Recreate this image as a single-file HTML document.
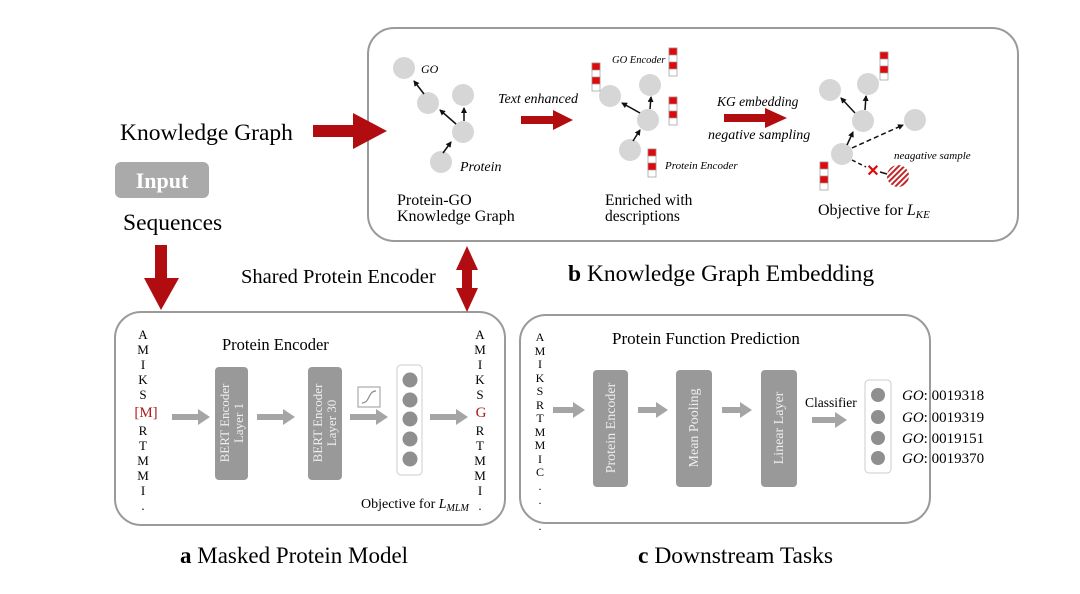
<!DOCTYPE html>
<html><head><meta charset="utf-8"><style>
html,body{margin:0;padding:0;background:#fff;}
svg{display:block;font-family:"Liberation Serif",serif;}
.it{font-style:italic;}
</style></head><body>
<svg width="1080" height="594" viewBox="0 0 1080 594" xmlns="http://www.w3.org/2000/svg">
<defs>
<marker id="ah" markerWidth="6" markerHeight="6" refX="5" refY="3" orient="auto" markerUnits="userSpaceOnUse"><path d="M0,0 L6,3 L0,6 z" fill="#111"/></marker>
<pattern id="hatch" width="4" height="4" patternUnits="userSpaceOnUse" patternTransform="rotate(45)"><rect width="4" height="4" fill="#fff"/><rect width="2" height="4" fill="#c0282a"/></pattern>
</defs>

<!-- boxes -->
<rect x="368" y="28" width="650" height="213" rx="26" fill="#fff" stroke="#9a9a9a" stroke-width="2"/>
<rect x="115" y="312" width="390" height="213" rx="26" fill="#fff" stroke="#9a9a9a" stroke-width="2"/>
<rect x="520" y="315" width="410" height="208" rx="26" fill="#fff" stroke="#9a9a9a" stroke-width="2"/>

<!-- left labels -->
<text x="120" y="140" font-size="23.5">Knowledge Graph</text>
<rect x="115" y="162" width="94" height="36" rx="6" fill="#aaaaaa"/>
<text x="162" y="188" font-size="22" font-weight="bold" fill="#fff" text-anchor="middle">Input</text>
<text x="123" y="230" font-size="23.5">Sequences</text>
<text x="241" y="283" font-size="20.5">Shared Protein Encoder</text>
<text x="568" y="281" font-size="23.5"><tspan font-weight="bold">b</tspan> Knowledge Graph Embedding</text>
<text x="180" y="563" font-size="23"><tspan font-weight="bold">a</tspan> Masked Protein Model</text>
<text x="638" y="563" font-size="23.5"><tspan font-weight="bold">c</tspan> Downstream Tasks</text>

<!-- big red arrows -->
<path d="M313,125 H353 V113 L387,131 L353,149 V137 H313 z" fill="#b10d10"/>
<path d="M155,245 H167 V278 H179 L161,310 L144,278 H155 z" fill="#b10d10"/>
<path d="M467,246 L478,270 H472 V288 H478 L467,312 L456,288 H462 V270 H456 z" fill="#b10d10"/>

<!-- Graph 1 -->
<g fill="#d6d6d6">
<circle cx="404" cy="68" r="11"/><circle cx="428" cy="103" r="11"/><circle cx="463" cy="95" r="11"/><circle cx="463" cy="132" r="11"/><circle cx="441" cy="162" r="11"/>
</g>
<g stroke="#111" stroke-width="1.5" marker-end="url(#ah)">
<line x1="424" y1="94" x2="414" y2="81"/>
<line x1="456" y1="124" x2="440" y2="110"/>
<line x1="464" y1="121" x2="464" y2="108"/>
<line x1="443" y1="153" x2="451" y2="142"/>
</g>
<text x="421" y="73" font-size="12" class="it">GO</text>
<text x="460" y="171" font-size="14" class="it">Protein</text>
<text x="397" y="205" font-size="16">Protein-GO</text>
<text x="397" y="221" font-size="16">Knowledge Graph</text>
<text x="498" y="103" font-size="14" class="it">Text enhanced</text>
<path d="M521,116 H553 V110 L573,120 L553,130 V124 H521 z" fill="#b10d10"/>

<!-- Graph 2 -->
<g fill="#d6d6d6">
<circle cx="610" cy="96" r="11"/><circle cx="650" cy="85" r="11"/><circle cx="648" cy="120" r="11"/><circle cx="630" cy="150" r="11"/>
</g>
<g stroke="#111" stroke-width="1.5" marker-end="url(#ah)">
<line x1="640" y1="113" x2="622" y2="103"/>
<line x1="650" y1="109" x2="651" y2="97"/>
<line x1="633" y1="141" x2="640" y2="130"/>
</g>
<g stroke="#999" stroke-width="0.7">
<rect x="592" y="63" width="8" height="28" fill="#fff"/><rect x="592" y="63" width="8" height="7" fill="#e0080a"/><rect x="592" y="77" width="8" height="7" fill="#e0080a"/>
<rect x="669" y="48" width="8" height="28" fill="#fff"/><rect x="669" y="48" width="8" height="7" fill="#e0080a"/><rect x="669" y="62" width="8" height="7" fill="#e0080a"/>
<rect x="669" y="97" width="8" height="28" fill="#fff"/><rect x="669" y="97" width="8" height="7" fill="#e0080a"/><rect x="669" y="111" width="8" height="7" fill="#e0080a"/>
<rect x="648" y="149" width="8" height="28" fill="#fff"/><rect x="648" y="149" width="8" height="7" fill="#e0080a"/><rect x="648" y="163" width="8" height="7" fill="#e0080a"/>
</g>
<text x="612" y="63" font-size="10.5" class="it">GO Encoder</text>
<text x="665" y="169" font-size="11" class="it">Protein Encoder</text>
<text x="605" y="205" font-size="15.5">Enriched with</text>
<text x="605" y="221" font-size="15.5">descriptions</text>
<text x="717" y="106" font-size="13.5" class="it">KG embedding</text>
<path d="M724,114 H765 V108 L787,118 L765,128 V122 H724 z" fill="#b10d10"/>
<text x="708" y="139" font-size="14" class="it">negative sampling</text>

<!-- Graph 3 -->
<g fill="#d6d6d6">
<circle cx="830" cy="90" r="11"/><circle cx="868" cy="84" r="11"/><circle cx="863" cy="121" r="11"/><circle cx="842" cy="154" r="11"/><circle cx="915" cy="120" r="11"/>
</g>
<circle cx="898" cy="176" r="11" fill="url(#hatch)"/>
<g stroke="#111" stroke-width="1.5" marker-end="url(#ah)">
<line x1="855" y1="113" x2="841" y2="98"/>
<line x1="865" y1="110" x2="866" y2="96"/>
<line x1="847" y1="145" x2="853" y2="132"/>
<line x1="852" y1="148" x2="903" y2="125" stroke-dasharray="5,3"/>
</g>
<line x1="852" y1="160" x2="866" y2="167" stroke="#111" stroke-width="1.5" stroke-dasharray="4,3"/>
<line x1="880" y1="172" x2="887" y2="174" stroke="#111" stroke-width="1.5"/>
<text x="873" y="176" font-size="16" font-weight="bold" fill="#e0080a" text-anchor="middle" font-family="Liberation Sans">✕</text>
<g stroke="#999" stroke-width="0.7">
<rect x="880" y="52" width="8" height="28" fill="#fff"/><rect x="880" y="52" width="8" height="7" fill="#e0080a"/><rect x="880" y="66" width="8" height="7" fill="#e0080a"/>
<rect x="820" y="162" width="8" height="28" fill="#fff"/><rect x="820" y="162" width="8" height="7" fill="#e0080a"/><rect x="820" y="176" width="8" height="7" fill="#e0080a"/>
</g>
<text x="894" y="159" font-size="11" class="it">neagative sample</text>
<text x="818" y="215" font-size="16">Objective for <tspan class="it">L</tspan><tspan class="it" font-size="11" dy="3">KE</tspan></text>

<!-- Box a -->
<g font-size="13" text-anchor="middle">
<text x="143" y="339">A</text><text x="143" y="354">M</text><text x="143" y="369">I</text><text x="143" y="384">K</text><text x="143" y="399">S</text>
<text x="146" y="417" fill="#b3181b" font-size="15">[M]</text>
<text x="143" y="435">R</text><text x="143" y="450">T</text><text x="143" y="465">M</text><text x="143" y="480">M</text><text x="143" y="495">I</text><text x="143" y="510">.</text>
<text x="480" y="339">A</text><text x="480" y="354">M</text><text x="480" y="369">I</text><text x="480" y="384">K</text><text x="480" y="399">S</text>
<text x="481" y="417" fill="#b3181b" font-size="15">G</text>
<text x="480" y="435">R</text><text x="480" y="450">T</text><text x="480" y="465">M</text><text x="480" y="480">M</text><text x="480" y="495">I</text><text x="480" y="510">.</text>
</g>
<text x="222" y="350" font-size="16.5">Protein Encoder</text>
<rect x="215" y="367" width="33" height="113" rx="4" fill="#999"/>
<rect x="308" y="367" width="34" height="113" rx="4" fill="#999"/>
<text transform="translate(229,423) rotate(-90)" font-size="13" fill="#eee" text-anchor="middle">BERT Encoder</text>
<text transform="translate(243,423) rotate(-90)" font-size="13" fill="#eee" text-anchor="middle">Layer 1</text>
<text transform="translate(322,423) rotate(-90)" font-size="13" fill="#eee" text-anchor="middle">BERT Encoder</text>
<text transform="translate(336,423) rotate(-90)" font-size="13" fill="#eee" text-anchor="middle">Layer 30</text>
<g fill="#a5a5a5">
<path d="M172,414 H198 V409 L210,417 L198,425 V420 H172 z"/>
<path d="M257,414 H283 V409 L295,417 L283,425 V420 H257 z"/>
<path d="M350,414 H376 V409 L388,417 L376,425 V420 H350 z"/>
<path d="M430,414 H456 V409 L468,417 L456,425 V420 H430 z"/>
</g>
<rect x="358" y="387" width="22" height="20" fill="#fff" stroke="#aaa" stroke-width="1.2"/>
<path d="M362,403 C370,403 368,391 376,391" fill="none" stroke="#888" stroke-width="1.2"/>
<rect x="397" y="365" width="25" height="110" rx="4" fill="#fff" stroke="#ccc" stroke-width="1"/>
<g fill="#8f8f8f"><circle cx="410" cy="380" r="7.5"/><circle cx="410" cy="400" r="7.5"/><circle cx="410" cy="419" r="7.5"/><circle cx="410" cy="439" r="7.5"/><circle cx="410" cy="459" r="7.5"/></g>
<text x="361" y="508" font-size="14">Objective for <tspan class="it">L</tspan><tspan class="it" font-size="10" dy="3">MLM</tspan></text>

<!-- Box c -->
<g font-size="12" text-anchor="middle">
<text x="540" y="341">A</text><text x="540" y="355">M</text><text x="540" y="368">I</text><text x="540" y="382">K</text><text x="540" y="395">S</text><text x="540" y="409">R</text><text x="540" y="422">T</text><text x="540" y="436">M</text><text x="540" y="449">M</text><text x="540" y="463">I</text><text x="540" y="476">C</text><text x="540" y="490">.</text><text x="540" y="504">.</text><text x="540" y="530">.</text>
</g>
<text x="612" y="344" font-size="17">Protein Function Prediction</text>
<rect x="593" y="370" width="35" height="117" rx="4" fill="#999"/>
<rect x="676" y="370" width="36" height="117" rx="4" fill="#999"/>
<rect x="761" y="370" width="36" height="117" rx="4" fill="#999"/>
<text transform="translate(615,428) rotate(-90)" font-size="14" fill="#eee" text-anchor="middle">Protein Encoder</text>
<text transform="translate(698,428) rotate(-90)" font-size="14" fill="#eee" text-anchor="middle">Mean Pooling</text>
<text transform="translate(783,428) rotate(-90)" font-size="14" fill="#eee" text-anchor="middle">Linear Layer</text>
<g fill="#a5a5a5">
<path d="M553,407 H573 V402 L585,410 L573,418 V413 H553 z"/>
<path d="M638,407 H656 V402 L668,410 L656,418 V413 H638 z"/>
<path d="M722,407 H740 V402 L752,410 L740,418 V413 H722 z"/>
<path d="M812,417 H835 V412 L847,420 L835,428 V423 H812 z"/>
</g>
<text x="805" y="407" font-size="13.5">Classifier</text>
<rect x="865" y="380" width="26" height="93" rx="4" fill="#fff" stroke="#ccc" stroke-width="1"/>
<g fill="#8f8f8f"><circle cx="878" cy="395" r="7"/><circle cx="878" cy="417" r="7"/><circle cx="878" cy="438" r="7"/><circle cx="878" cy="458" r="7"/></g>
<g font-size="15">
<text x="902" y="400"><tspan class="it">GO</tspan>: 0019318</text>
<text x="902" y="422"><tspan class="it">GO</tspan>: 0019319</text>
<text x="902" y="443"><tspan class="it">GO</tspan>: 0019151</text>
<text x="902" y="463"><tspan class="it">GO</tspan>: 0019370</text>
</g>
</svg>
</body></html>
